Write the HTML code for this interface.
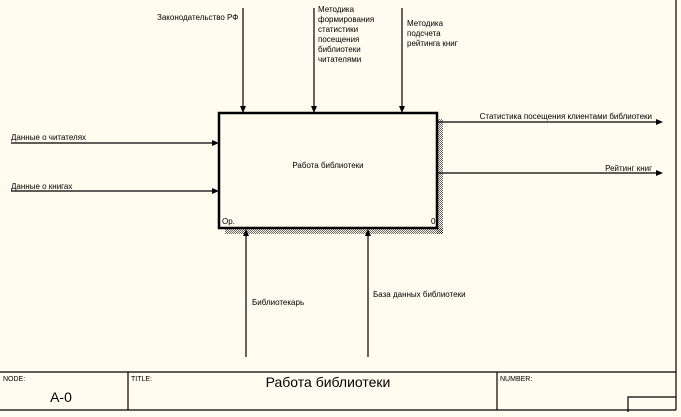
<!DOCTYPE html>
<html><head><meta charset="utf-8"><style>
html,body{margin:0;padding:0;background:#fffbef;}
svg{display:block;font-family:"Liberation Sans",sans-serif;font-size:8px;}
text{fill:#000;}
</style></head><body>
<svg width="681" height="417" viewBox="0 0 681 417" xmlns="http://www.w3.org/2000/svg">
<defs>
<pattern id="hp" width="2" height="2" patternUnits="userSpaceOnUse">
<rect width="1" height="1" fill="#000"/><rect x="1" y="1" width="1" height="1" fill="#000"/>
</pattern>
</defs>
<rect width="681" height="417" fill="#fffbef"/>
<rect x="437" y="119" width="6" height="115" fill="url(#hp)" opacity="0.6"/>
<rect x="225" y="228" width="218" height="6" fill="url(#hp)" opacity="0.6"/>
<rect x="219" y="113" width="218" height="115" fill="#fffbef" stroke="#000" stroke-width="2.5"/>
<text x="328" y="168" text-anchor="middle">Работа библиотеки</text>
<text x="222" y="224">Ор.</text>
<text x="431" y="224">0</text>
<g stroke="#000" stroke-width="1.2" fill="none">
<line x1="243" y1="8" x2="243" y2="108"/>
<line x1="314" y1="8" x2="314" y2="108"/>
<line x1="402" y1="8" x2="402" y2="108"/>
<line x1="11" y1="143" x2="214" y2="143"/>
<line x1="11" y1="191" x2="214" y2="191"/>
<line x1="438" y1="122" x2="658" y2="122"/>
<line x1="438" y1="173" x2="658" y2="173"/>
<line x1="246" y1="357" x2="246" y2="234"/>
<line x1="368" y1="357" x2="368" y2="234"/>
<line x1="676" y1="0" x2="676" y2="410"/>
<line x1="0" y1="372" x2="676" y2="372"/>
<line x1="0" y1="410" x2="676" y2="410"/>
<line x1="128" y1="372" x2="128" y2="410"/>
<line x1="497" y1="372" x2="497" y2="410"/>
<polyline points="628,412 628,397 676,397"/>
</g>
<g fill="#000">
<polygon points="240,106 246,106 243,113"/>
<polygon points="311,106 317,106 314,113"/>
<polygon points="399,106 405,106 402,113"/>
<polygon points="212,140 212,146 219,143"/>
<polygon points="212,188 212,194 219,191"/>
<polygon points="656,119 656,125 663,122"/>
<polygon points="656,170 656,176 663,173"/>
<polygon points="243,236 249,236 246,229"/>
<polygon points="365,236 371,236 368,229"/>
</g>
<text x="157" y="20">Законодательство РФ</text>
<text x="318" y="12">Методика</text>
<text x="318" y="22">формирования</text>
<text x="318" y="32">статистики</text>
<text x="318" y="42">посещения</text>
<text x="318" y="52">библиотеки</text>
<text x="318" y="62">читателями</text>
<text x="407" y="26">Методика</text>
<text x="407" y="36">подсчета</text>
<text x="407" y="46">рейтинга книг</text>
<text x="11" y="140">Данные о читателях</text>
<text x="11" y="189">Данные о книгах</text>
<text x="652" y="119" text-anchor="end">Статистика посещения клиентами библиотеки</text>
<text x="652" y="171" text-anchor="end">Рейтинг книг</text>
<text x="252" y="305">Библиотекарь</text>
<text x="373" y="297">База данных библиотеки</text>
<text x="3" y="381" style="font-size:7px">NODE:</text>
<text x="131" y="381" style="font-size:7px">TITLE:</text>
<text x="500" y="381" style="font-size:7px">NUMBER:</text>
<text x="328" y="387" text-anchor="middle" style="font-size:14px">Работа библиотеки</text>
<text x="61" y="402" text-anchor="middle" style="font-size:14px">А-0</text>
</svg>
</body></html>
